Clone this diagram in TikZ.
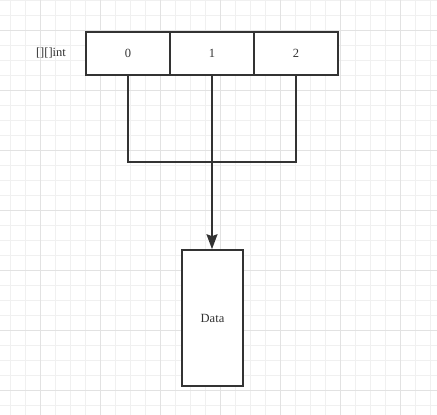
\documentclass[tikz,border=0pt]{standalone}
\usepackage{fontspec}
\setmainfont{Liberation Serif}
\usetikzlibrary{positioning,arrows.meta}
\definecolor{inkgray}{HTML}{333333}
\definecolor{gridminor}{HTML}{F0F0F0}
\definecolor{gridmajor}{HTML}{E2E2E2}
\begin{document}
\begin{tikzpicture}[x=1pt, y=-1pt,
    cellbox/.style={draw=inkgray, line width=1.6pt, minimum width=84pt,
        minimum height=43pt, inner sep=0pt, text=inkgray,
        font=\fontsize{12.5}{15}\selectfont},
    databox/.style={cellbox, minimum width=61pt, minimum height=136pt},
    wire/.style={draw=inkgray, line width=1.6pt}]
    \fill[white] (0,0) rectangle (437,415);
    \useasboundingbox (0,0) rectangle (437,415);
    % grid
    \foreach \x in {10,25,...,430} {
        \draw[gridminor, line width=0.8pt] (\x,0) -- (\x,415);
    }
    \foreach \y in {0,15,...,405} {
        \draw[gridminor, line width=0.8pt] (0,\y) -- (437,\y);
    }
    \foreach \x in {40,100,...,400} {
        \draw[gridmajor, line width=0.8pt] (\x,0) -- (\x,415);
    }
    \foreach \y in {30,90,...,390} {
        \draw[gridmajor, line width=0.8pt] (0,\y) -- (437,\y);
    }
    % array of slices
    \node[cellbox, fill=white] (cell0) at (128,53.5) {0};
    \node[cellbox, fill=white] (cell1) at (212,53.5) {1};
    \node[cellbox, fill=white] (cell2) at (296,53.5) {2};
    \node[text=inkgray, font=\fontsize{12.5}{15}\selectfont] (label) at (51,53) {[][]int};
    \node[databox, fill=white] (data) at (212.5,318) {Data};
    \coordinate (join) at (212,162);
    \draw[wire] (cell0.south) |- (join) -| (cell2.south);
    \draw[wire, -{Stealth[length=15pt, width=11pt, inset=2pt]}] (cell1.south) -- (cell1.south |- data.north);
\end{tikzpicture}
\end{document}
